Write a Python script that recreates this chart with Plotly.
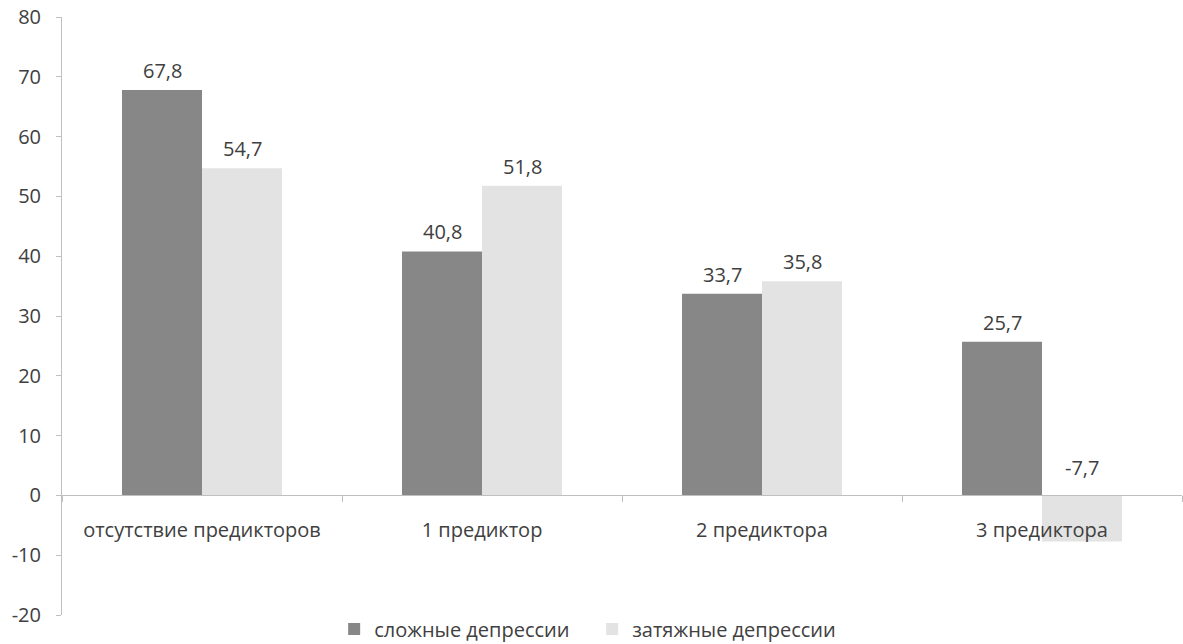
import plotly.graph_objects as go

categories = ["отсутствие предикторов", "1 предиктор", "2 предиктора", "3 предиктора"]
complex_dep = [67.8, 40.8, 33.7, 25.7]
prolonged_dep = [54.7, 51.8, 35.8, -7.7]
series_names = ["сложные депрессии", "затяжные депрессии"]
y_ticks = [-20, -10, 0, 10, 20, 30, 40, 50, 60, 70, 80]

colors = ["#878787", "#e3e3e3"]
text_color = "#404040"
axis_color = "#bfbfbf"
font_family = "Open Sans, DejaVu Sans, sans-serif"
fs = 20

fig = go.Figure()
for name, vals, col in zip(series_names, [complex_dep, prolonged_dep], colors):
    fig.add_trace(go.Bar(x=categories, y=vals, name=name, marker=dict(color=col, line=dict(width=0))))

# value labels above each bar (negative bars get their label above the zero line)
for shift, vals in zip([-40, 40], [complex_dep, prolonged_dep]):
    for cat, v in zip(categories, vals):
        fig.add_annotation(
            x=cat, y=max(v, 0), text=f"{v:.1f}".replace(".", ","),
            showarrow=False, xshift=shift, yanchor="bottom",
            yshift=4 if v >= 0 else 12,
            font=dict(family=font_family, size=fs, color=text_color),
        )

fig.update_layout(
    width=1183, height=644,
    margin=dict(l=62, r=1, t=17, b=29, autoexpand=False),
    plot_bgcolor="white", paper_bgcolor="white",
    barmode="group", bargap=0.4286, bargroupgap=0,
    separators=", ",
    font=dict(family=font_family, size=fs, color=text_color),
    showlegend=True,
    legend=dict(orientation="h", x=0.243, xanchor="left", y=-0.0234, yanchor="middle",
                font=dict(size=fs, color=text_color), itemwidth=30, entrywidth=213,
                entrywidthmode="pixels", traceorder="normal", borderwidth=0),
    xaxis=dict(
        type="category", anchor="free", position=0.2,
        showline=True, linecolor=axis_color, linewidth=1,
        ticks="outside", tickson="boundaries", ticklen=6, tickcolor=axis_color,
        ticklabelstandoff=17, showgrid=False, zeroline=False,
        tickfont=dict(size=fs, color=text_color),
    ),
    yaxis=dict(
        range=[-20, 80], tickvals=y_ticks, ticktext=[str(v) for v in y_ticks],
        showgrid=False, zeroline=False,
        showline=True, linecolor=axis_color, linewidth=1,
        ticks="outside", ticklen=5, tickcolor=axis_color,
        ticklabelstandoff=11, tickfont=dict(size=fs, color=text_color),
    ),
)

fig.write_html("out.html")
